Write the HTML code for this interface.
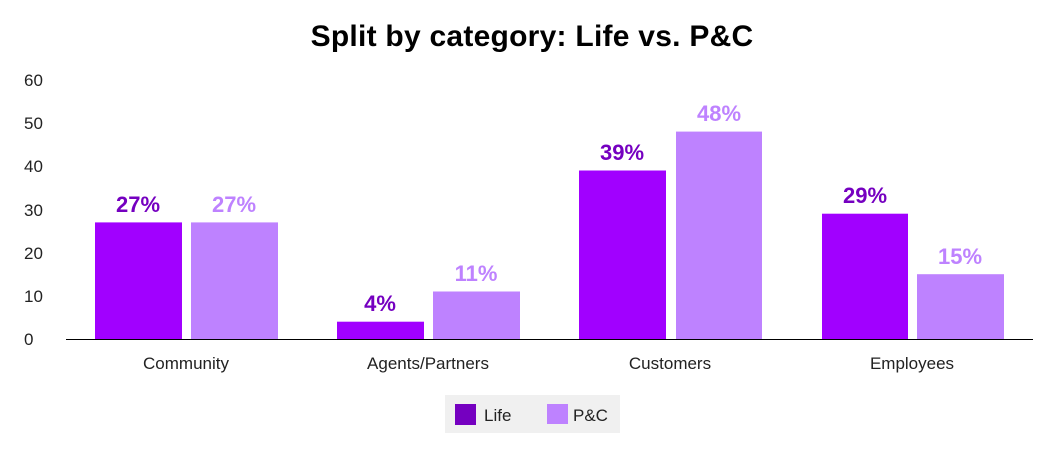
<!DOCTYPE html>
<html><head><meta charset="utf-8"><style>body{margin:0;background:#fff}svg{display:block}</style></head><body>
<svg width="1053" height="461" xmlns="http://www.w3.org/2000/svg" font-family="Liberation Sans, sans-serif">
<text x="532" y="46" text-anchor="middle" font-size="30" font-weight="bold" fill="#000" letter-spacing="0.25">Split by category: Life vs. P&amp;C</text>
<g font-size="17" fill="#222" text-anchor="start">
<text x="24" y="345">0</text><text x="24" y="302">10</text><text x="24" y="259">20</text><text x="24" y="216">30</text><text x="24" y="172">40</text><text x="24" y="129">50</text><text x="24" y="86">60</text>
</g>
<g fill="#a100ff">
<rect x="95" y="222.4" width="87" height="116.6"/>
<rect x="337" y="321.7" width="87" height="17.3"/>
<rect x="579" y="170.5" width="87" height="168.5"/>
<rect x="822" y="213.7" width="86" height="125.3"/>
</g>
<g fill="#be82ff">
<rect x="191" y="222.4" width="87" height="116.6"/>
<rect x="433" y="291.5" width="87" height="47.5"/>
<rect x="676" y="131.6" width="86" height="207.4"/>
<rect x="917" y="274.2" width="87" height="64.8"/>
</g>
<line x1="66" y1="339.5" x2="1033" y2="339.5" stroke="#000" stroke-width="1"/>
<g font-size="22" font-weight="bold" text-anchor="middle">
<text x="138" y="212" fill="#7500c0">27%</text><text x="234" y="212" fill="#be82ff">27%</text>
<text x="380" y="311" fill="#7500c0">4%</text><text x="476" y="281" fill="#be82ff">11%</text>
<text x="622" y="160" fill="#7500c0">39%</text><text x="719" y="121" fill="#be82ff">48%</text>
<text x="865" y="203" fill="#7500c0">29%</text><text x="960" y="264" fill="#be82ff">15%</text>
</g>
<g font-size="17" fill="#222" text-anchor="middle">
<text x="186" y="369">Community</text><text x="428" y="369">Agents/Partners</text><text x="670" y="369">Customers</text><text x="912" y="369">Employees</text>
</g>
<rect x="445" y="395" width="175" height="38" fill="#f0f0f0"/>
<rect x="455" y="404" width="21" height="21" fill="#7500c0"/>
<text x="484" y="421" font-size="17" fill="#222">Life</text>
<rect x="547" y="404" width="21" height="20" fill="#be82ff"/>
<text x="573" y="421" font-size="17" fill="#222">P&amp;C</text>
</svg>
</body></html>
